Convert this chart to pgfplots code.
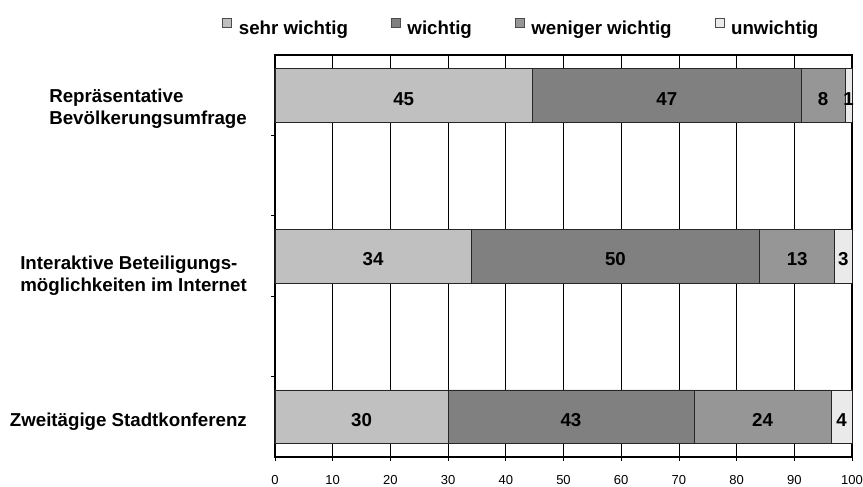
\documentclass[border=0pt]{standalone}
\usepackage{pgfplots}
\usepackage{pgfplotstable}
\pgfplotsset{compat=1.18}
\usepackage{fontspec}
\setmainfont{Liberation Sans}

\definecolor{sehrwichtig}{HTML}{C0C0C0}
\definecolor{wichtig}{HTML}{808080}
\definecolor{wenigerwichtig}{HTML}{969696}
\definecolor{unwichtig}{HTML}{EAEAEA}

\newcommand{\labelfont}{\bfseries\fontsize{18.7}{22}\selectfont}
\newcommand{\tickfont}{\fontsize{13}{15}\selectfont}

% Anteile in Prozent; pos = Lage des Balkens auf der Kategorienachse
\pgfplotstableread{
pos  sehr  wicht  weniger  unw
0.5  44.6  46.6   7.6      1.2
2.5  34    50     13       3
4.5  30    42.6   23.8     3.6
}\umfrage

% each segment carries its own share as label
\pgfplotsset{
  segment/.style={
    fill=#1, draw=black!85, line width=0.6pt,
  },
  segment labels/.style={
    point meta=explicit,
    nodes near coords={\pgfmathprintnumber[fixed,precision=0]{\pgfplotspointmeta}},
    every node near coord/.append style={anchor=center, font=\labelfont, black, yshift=-3.5pt},
  },
}

\begin{document}
\begin{tikzpicture}
\useasboundingbox (0,0) rectangle (863pt,487pt);
\begin{axis}[
  at={(275pt,30pt)}, anchor=south west,
  scale only axis, width=577pt, height=402pt,
  xbar stacked, bar width=0.67,
  xmin=0, xmax=100, ymin=0, ymax=5, y dir=reverse,
  xtick={0,10,...,100},
  ytick={1,2,3,4}, yticklabels={},
  tick pos=left, tick align=outside,
  major tick length=4pt,
  tick style={black, line width=0.8pt},
  axis line style={black, line width=1.1pt},
  xmajorgrids, grid style={black, line width=0.8pt},
  /pgf/number format/assume math mode=true,
  xticklabel style={font=\tickfont, anchor=base, yshift=-23pt},
  extra y ticks={0.672,2.749,4.565},
  extra y tick labels={{Repräsentative\\Bevölkerungsumfrage},{Interaktive Beteiligungs-\\möglichkeiten im Internet},{Zweitägige Stadtkonferenz}},
  extra y tick style={major tick length=0pt,
    tick label style={align=left, font=\labelfont, anchor=east, inner sep=0pt, xshift=-28pt}},
  legend columns=4,
  legend style={draw=none, fill=none, font=\labelfont,
    at={(axis description cs:0.427,1.067)}, anchor=center,
    /tikz/every odd column/.append style={column sep=5pt},
    /tikz/every even column/.append style={column sep=41pt}},
  legend image code/.code={\draw[#1, draw=black!70, line width=0.5pt] (0pt,1pt) rectangle (9pt,10pt);},
]
\addplot[segment=sehrwichtig, segment labels] table[x=sehr, y=pos, meta=sehr]{\umfrage};
\addplot[segment=wichtig, segment labels] table[x=wicht, y=pos, meta=wicht]{\umfrage};
\addplot[segment=wenigerwichtig, segment labels] table[x=weniger, y=pos, meta=weniger]{\umfrage};
\addplot[segment=unwichtig, segment labels] table[x=unw, y=pos, meta=unw]{\umfrage};
\legend{sehr wichtig, wichtig, weniger wichtig, unwichtig}
\node[font=\tickfont, anchor=base, yshift=-25pt] at (axis description cs:-0.054,0) {\%};
\end{axis}
\end{tikzpicture}
\end{document}
